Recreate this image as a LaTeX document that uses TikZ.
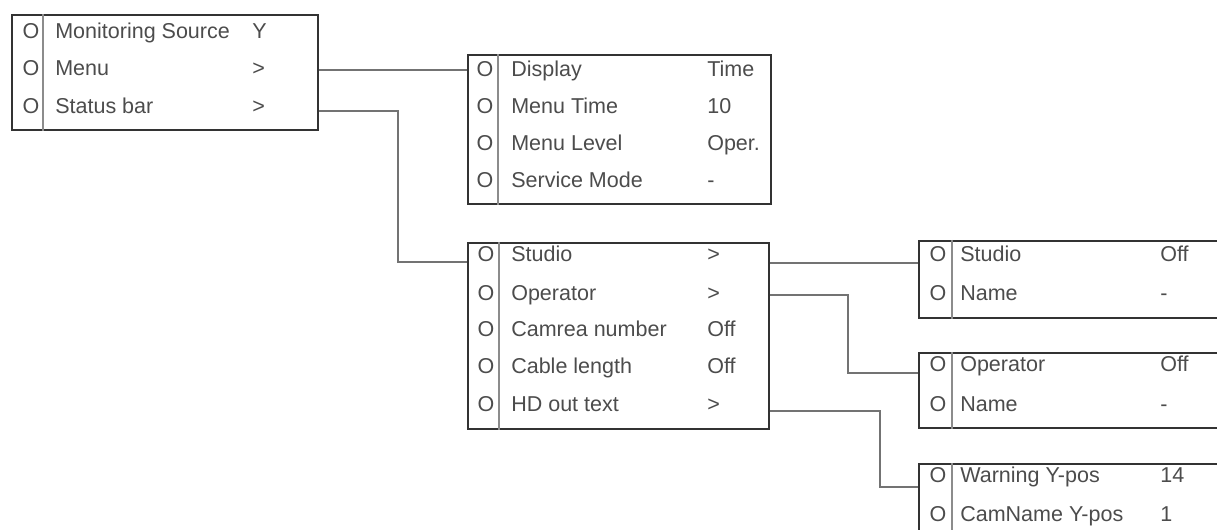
\documentclass[tikz,border=0pt]{standalone}
\usepackage{fontspec}
\setmainfont{Liberation Sans}
\usepackage{tikz}
\usetikzlibrary{
	positioning,
	calc
}

\begin{document}
\begin{tikzpicture}[
					x=0.025cm, y=-0.025cm,
					menubox/.style={
					rectangle, draw=black!80, line width=1.4pt,
					anchor=north west, inner sep=0pt
				},
				item/.style={
					anchor=west, inner sep=0pt, text=black!70,
					font=\fontsize{15.3pt}{18pt}\selectfont,
					text height=0.716em, text depth=0pt
				},
				bullet/.style={
					item, anchor=center
				},
				divider/.style={black!45, line width=1.1pt},
				link/.style={black!55, line width=1pt},
				]
				
				\path[use as bounding box, clip] (0,0) rectangle (1217,530);
				
				%main menu
				\node[menubox, minimum width=306*0.025cm, minimum height=115*0.025cm] (boxA) at (11,14) {};
				\draw[divider] ([xshift=32*0.025cm]boxA.north west) -- ([xshift=32*0.025cm]boxA.south west);
				\node[item] (monA) at (55,33) {Monitoring Source};
				\node[item] (menuA) at (55,70) {Menu};
				\node[item] (statA) at (55,108) {Status bar};
				\node[bullet] (monAo) at (31,33) {O};
				\node[bullet] (menuAo) at (31,70) {O};
				\node[bullet] (statAo) at (31,108) {O};
				\node[item] (monAv) at (252,33) {Y};
				\node[item] (menuAv) at (252,70) {>};
				\node[item] (statAv) at (252,108) {>};
				
				%menu settings
				\node[menubox, minimum width=303*0.025cm, minimum height=149*0.025cm] (boxB) at (467,54) {};
				\draw[divider] ([xshift=31*0.025cm]boxB.north west) -- ([xshift=31*0.025cm]boxB.south west);
				\node[item] (dispB) at (511,71) {Display};
				\node[item] (timeB) at (511,108) {Menu Time};
				\node[item] (levB) at (511,145) {Menu Level};
				\node[item] (servB) at (511,182) {Service Mode};
				\node[bullet] (dispBo) at (485,71) {O};
				\node[bullet] (timeBo) at (485,108) {O};
				\node[bullet] (levBo) at (485,145) {O};
				\node[bullet] (servBo) at (485,182) {O};
				\node[item] (dispBv) at (707,71) {Time};
				\node[item] (timeBv) at (707,108) {10};
				\node[item] (levBv) at (707,145) {Oper.};
				\node[item] (servBv) at (707,182) {-};
				\draw[link] (menuA -| boxA.east) -- (menuA -| boxB.west);
				
				%status bar
				\node[menubox, minimum width=301*0.025cm, minimum height=186*0.025cm] (boxC) at (467,242) {};
				\draw[divider] ([xshift=32*0.025cm]boxC.north west) -- ([xshift=32*0.025cm]boxC.south west);
				\node[item] (studC) at (511,256) {Studio};
				\node[item] (operC) at (511,295) {Operator};
				\node[item] (camC) at (511,331) {Camrea number};
				\node[item] (cabC) at (511,368) {Cable length};
				\node[item] (hdC) at (511,406) {HD out text};
				\node[bullet] (studCo) at (486,256) {O};
				\node[bullet] (operCo) at (486,295) {O};
				\node[bullet] (camCo) at (486,331) {O};
				\node[bullet] (cabCo) at (486,368) {O};
				\node[bullet] (hdCo) at (486,406) {O};
				\node[item] (studCv) at (707,256) {>};
				\node[item] (operCv) at (707,295) {>};
				\node[item] (camCv) at (707,331) {Off};
				\node[item] (cabCv) at (707,368) {Off};
				\node[item] (hdCv) at (707,406) {>};
				\draw[link] ($(statA -| boxA.east)+(0,3)$) -- ++(79,0) |- ($(studC -| boxC.west)+(0,6)$);
				
				%studio
				\node[menubox, minimum width=330*0.025cm, minimum height=77*0.025cm] (boxD) at (918,240) {};
				\draw[divider] ([xshift=34*0.025cm]boxD.north west) -- ([xshift=34*0.025cm]boxD.south west);
				\node[item] (studD) at (960,256) {Studio};
				\node[item] (nameD) at (960,295) {Name};
				\node[bullet] (studDo) at (938,256) {O};
				\node[bullet] (nameDo) at (938,295) {O};
				\node[item] (studDv) at (1160,256) {Off};
				\node[item] (nameDv) at (1160,295) {-};
				\draw[link] ($(studC -| boxC.east)+(0,7)$) -- ($(studD -| boxD.west)+(0,7)$);
				
				%operator
				\node[menubox, minimum width=330*0.025cm, minimum height=75*0.025cm] (boxE) at (918,352) {};
				\draw[divider] ([xshift=34*0.025cm]boxE.north west) -- ([xshift=34*0.025cm]boxE.south west);
				\node[item] (operE) at (960,366) {Operator};
				\node[item] (nameE) at (960,406) {Name};
				\node[bullet] (operEo) at (938,366) {O};
				\node[bullet] (nameEo) at (938,406) {O};
				\node[item] (operEv) at (1160,366) {Off};
				\node[item] (nameEv) at (1160,406) {-};
				\draw[link] (operC -| boxC.east) -- ++(78,0) |- ($(operE -| boxE.west)+(0,7)$);
				
				%hd out text
				\node[menubox, minimum width=330*0.025cm, minimum height=100*0.025cm] (boxF) at (918,463) {};
				\draw[divider] ([xshift=34*0.025cm]boxF.north west) -- ([xshift=34*0.025cm]boxF.south west);
				\node[item] (warnF) at (960,477) {Warning Y-pos};
				\node[item] (camF) at (960,516) {CamName Y-pos};
				\node[bullet] (warnFo) at (938,477) {O};
				\node[bullet] (camFo) at (938,516) {O};
				\node[item] (warnFv) at (1160,477) {14};
				\node[item] (camFv) at (1160,516) {1};
				\draw[link] ($(hdC -| boxC.east)+(0,5)$) -- ++(110,0) |- ($(warnF -| boxF.west)+(0,10)$);
			\end{tikzpicture}
\end{document}
